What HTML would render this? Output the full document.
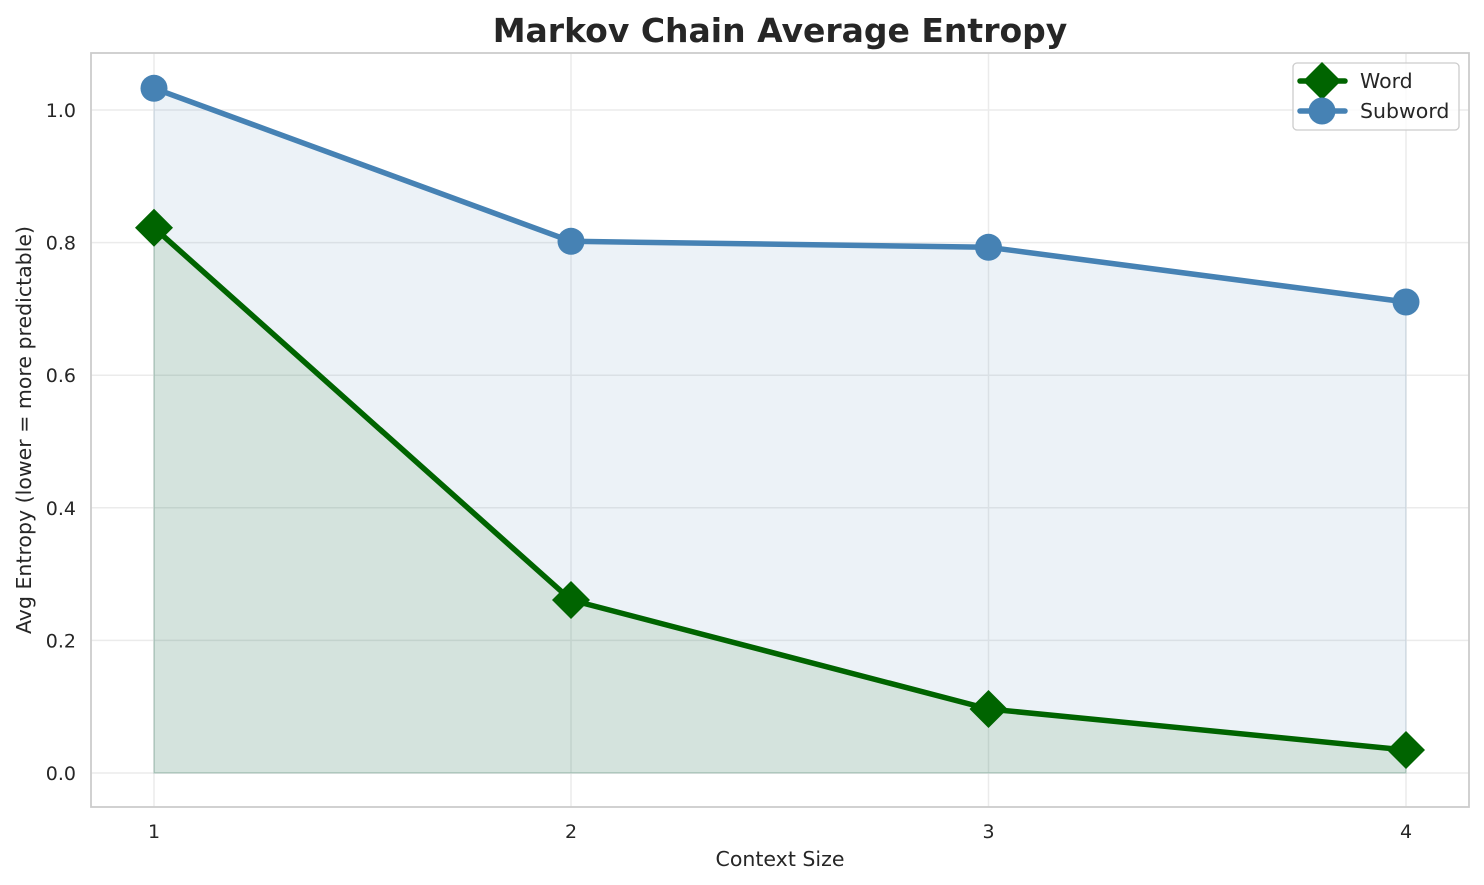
<!DOCTYPE html>
<html><head><meta charset="utf-8"><style>
html,body{margin:0;padding:0;background:#fff;}
svg{display:block;}
text{font-family:"DejaVu Sans","Liberation Sans",sans-serif;fill:#262626;}
</style></head><body>
<svg width="1484" height="885" viewBox="0 0 1484 885" xmlns="http://www.w3.org/2000/svg">
<rect x="0" y="0" width="1484" height="885" fill="#fff"/>
<!-- grid -->
<g stroke="#ebebeb" stroke-width="1.5">
<line x1="91" x2="1469" y1="773" y2="773"/>
<line x1="91" x2="1469" y1="640.4" y2="640.4"/>
<line x1="91" x2="1469" y1="507.8" y2="507.8"/>
<line x1="91" x2="1469" y1="375.2" y2="375.2"/>
<line x1="91" x2="1469" y1="242.6" y2="242.6"/>
<line x1="91" x2="1469" y1="110" y2="110"/>
<line x1="154" x2="154" y1="53" y2="807"/>
<line x1="571" x2="571" y1="53" y2="807"/>
<line x1="988.5" x2="988.5" y1="53" y2="807"/>
<line x1="1406" x2="1406" y1="53" y2="807"/>
</g>
<!-- fills -->
<polygon points="154,88.3 571,241.3 988.5,247.3 1406,302 1406,773 154,773" fill="#4682B4" fill-opacity="0.1" stroke="#4682B4" stroke-opacity="0.1" stroke-width="1.5"/>
<polygon points="154,227.7 571,600 988.5,709 1406,750 1406,773 154,773" fill="#006400" fill-opacity="0.1" stroke="#006400" stroke-opacity="0.1" stroke-width="1.5"/>
<!-- word line -->
<polyline points="154,227.7 571,600 988.5,709 1406,750" fill="none" stroke="#006400" stroke-width="5.5" stroke-linejoin="round"/>
<g fill="#006400">
<polygon points="154,208.7 173,227.7 154,246.7 135,227.7"/>
<polygon points="571,581 590,600 571,619 552,600"/>
<polygon points="988.5,690 1007.5,709 988.5,728 969.5,709"/>
<polygon points="1406,731 1425,750 1406,769 1387,750"/>
</g>
<!-- subword line -->
<polyline points="154,88.3 571,241.3 988.5,247.3 1406,302" fill="none" stroke="#4682B4" stroke-width="5.5" stroke-linejoin="round"/>
<g fill="#4682B4">
<circle cx="154" cy="88.3" r="13.5"/>
<circle cx="571" cy="241.3" r="13.5"/>
<circle cx="988.5" cy="247.3" r="13.5"/>
<circle cx="1406" cy="302" r="13.5"/>
</g>
<!-- spines -->
<rect x="91" y="53" width="1378" height="754" fill="none" stroke="#cccccc" stroke-width="1.8"/>
<!-- y tick labels -->
<g font-size="19" text-anchor="end">
<text x="76" y="780">0.0</text>
<text x="76" y="647.4">0.2</text>
<text x="76" y="514.8">0.4</text>
<text x="76" y="382.2">0.6</text>
<text x="76" y="249.6">0.8</text>
<text x="76" y="117">1.0</text>
</g>
<!-- x tick labels -->
<g font-size="19" text-anchor="middle">
<text x="154" y="838">1</text>
<text x="571" y="838">2</text>
<text x="988.5" y="838">3</text>
<text x="1406" y="838">4</text>
</g>
<text x="780" y="866" font-size="20.5" text-anchor="middle">Context Size</text>
<text transform="translate(31,430) rotate(-90)" font-size="20.5" text-anchor="middle">Avg Entropy (lower = more predictable)</text>
<text x="780" y="42" font-size="33" font-weight="bold" text-anchor="middle">Markov Chain Average Entropy</text>
<!-- legend -->
<rect x="1293" y="63" width="166" height="67" rx="4" ry="4" fill="#fff" fill-opacity="0.8" stroke="#cccccc" stroke-width="1.3"/>
<line x1="1300" x2="1345" y1="81" y2="81" stroke="#006400" stroke-width="5.5" stroke-linecap="round"/>
<polygon points="1322,62 1341,81 1322,100 1303,81" fill="#006400"/>
<line x1="1300" x2="1345" y1="111" y2="111" stroke="#4682B4" stroke-width="5.5" stroke-linecap="round"/>
<circle cx="1322" cy="111" r="13.5" fill="#4682B4"/>
<text x="1360" y="88" font-size="20.5">Word</text>
<text x="1360" y="118" font-size="20.5">Subword</text>
</svg>
</body></html>
